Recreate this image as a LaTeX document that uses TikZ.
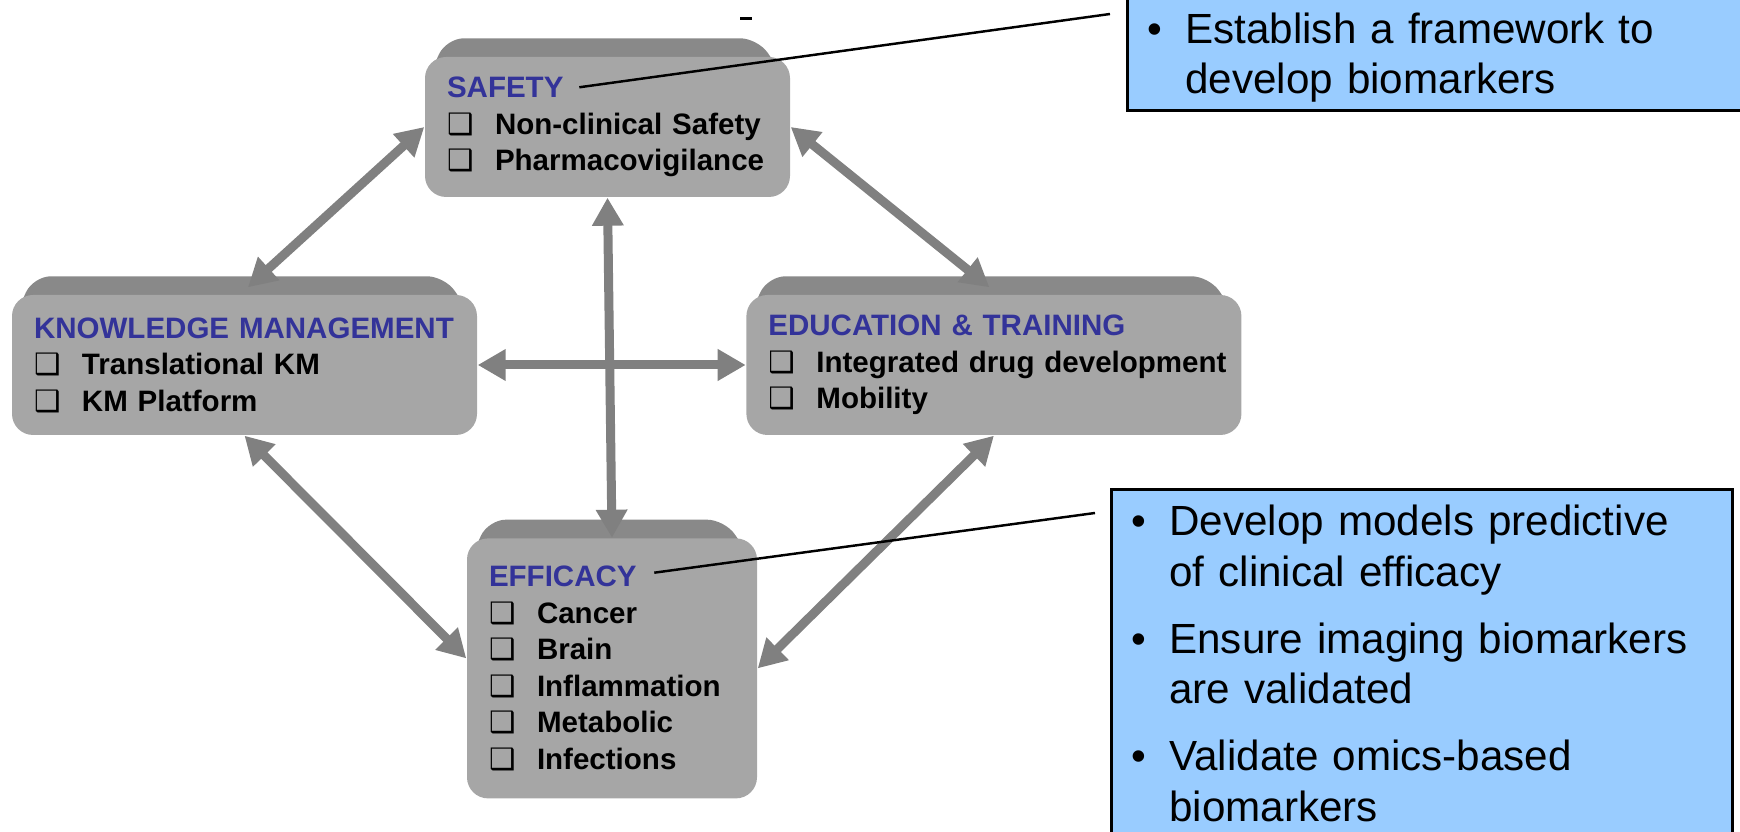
\documentclass[tikz,border=0pt]{standalone}
\usepackage{fontspec}
\setmainfont{Liberation Sans}
\newfontfamily\symfont{DejaVu Sans}
\usepackage{tikz}
\usetikzlibrary{positioning,calc,arrows.meta,backgrounds}

\definecolor{facegray}{RGB}{166,166,166}
\definecolor{bevelgray}{RGB}{137,137,137}
\definecolor{linkgray}{RGB}{128,128,128}
\definecolor{headblue}{RGB}{51,51,153}
\definecolor{aimblue}{RGB}{153,204,255}

\newcommand{\areahead}[1]{\mbox{\color{headblue}#1}}
\newcommand{\chk}[1]{\\\makebox[0.48cm][l]{\symfont ❑}\mbox{#1}}
\newcommand{\bul}{\makebox[0.38cm][l]{\textbullet}}
\newcommand{\ind}{\makebox[0.38cm]{}}
\newcommand{\topface}[1]{%
  \fill[bevelgray, rounded corners=5pt] ($(#1.north west)+(0,-0.3)$) -- ($(#1.north west)+(0.22,0.18)$)
    -- ($(#1.north east)+(-0.33,0.18)$) -- ($(#1.north east)+(0,-0.3)$) -- cycle;}

\tikzset{
  area/.style={fill=facegray, rectangle, rounded corners=6pt, inner xsep=0.22cm, inner ysep=0pt,
    align=left, minimum height=1.40cm,
    font=\fontsize{8.4}{10.4}\selectfont\bfseries},
  link/.style={draw=linkgray, line width=0.09cm,
    {Triangle[length=0.28cm,width=0.30cm]}-{Triangle[length=0.28cm,width=0.30cm]}},
  aim/.style={draw, line width=0.8pt, fill=aimblue, rectangle, inner xsep=0.2cm, inner ysep=0.14cm,
    align=left, font=\fontsize{12}{14.4}\selectfont},
  leader/.style={draw, line width=0.7pt}
}

\begin{document}
\begin{tikzpicture}
    \clip (0,0) rectangle (17.4,8.32);

    % Nodi
    \node[area, text width=3.21cm] (safety) at (6.075,7.05)
        {\areahead{SAFETY}\chk{Non-clinical Safety}\chk{Pharmacovigilance}};
    \node[area, text width=4.21cm] (km) at (2.445,4.67)
        {\areahead{KNOWLEDGE MANAGEMENT}\chk{Translational KM}\chk{KM Platform}};
    \node[area, text width=4.51cm, right=2.68cm of km] (edu)
        {\areahead{EDUCATION \& TRAINING}\chk{Integrated drug development}\chk{Mobility}};
    \node[area, text width=2.46cm, minimum height=2.60cm, below=3.40cm of safety, xshift=0.045cm] (eff)
        {\areahead{EFFICACY}\chk{Cancer}\chk{Brain}\chk{Inflammation}\chk{Metabolic}\chk{Infections}};

    \begin{scope}[on background layer]
        \topface{safety}
        \topface{km}
        \topface{edu}
        \topface{eff}
    \end{scope}

    \node[aim, text width=6.2cm, anchor=south west, inner ysep=0.08cm] (aim1) at (11.26,7.20)
        {\rule{0pt}{0.5cm}\bul Establish a framework to\\ \ind develop biomarkers};
    \node[aim, text width=5.81cm, anchor=north west, inner ysep=0.16cm] (aim2) at (11.10,3.44)
        {\bul Develop models predictive\\ \ind of clinical efficacy\\[0.16cm]
         \bul Ensure imaging biomarkers\\ \ind are validated\\[0.16cm]
         \bul Validate omics-based\\ \ind biomarkers};

    \coordinate (tip1) at (11.10,8.18);
    \coordinate (tip2) at (10.95,3.19);

    % Frecce
    \draw[link] (safety.west) -- ($(km.north)+(0.035,0.07)$);
    \draw[link] (safety.east) -- ($(edu.north)+(-0.045,0.07)$);
    \draw[link] (safety.south) -- (eff.north);
    \draw[link] (km.east) -- (edu.west);
    \draw[link] (km.south) -- ($(eff.west)+(0,0.1)$);
    \draw[link] (edu.south) -- (eff.east);

    % Linee di richiamo
    \draw[leader] ($(safety.north west)+(1.55,-0.31)$) -- (tip1);
    \draw[leader] ($(eff.north west)+(1.88,-0.35)$) -- (tip2);
    \draw[line width=0.6pt] (7.40,8.135) -- (7.52,8.135);
\end{tikzpicture}
\end{document}
